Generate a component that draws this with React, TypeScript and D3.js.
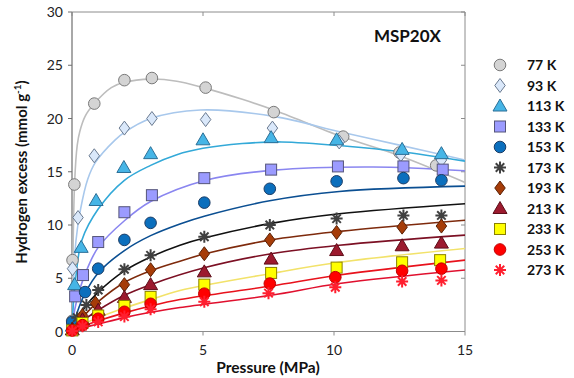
import React from "react";
import * as d3 from "d3";

// ---------- data ----------
const seriesNames = ["77 K", "93 K", "113 K", "133 K", "153 K", "173 K", "193 K", "213 K", "233 K", "253 K", "273 K"];
const xTicks = [0, 5, 10, 15];
const yTicks = [0, 5, 10, 15, 20, 25, 30];

// measured points: pressure (MPa) and excess (mmol/g)
const p77 = [0.005, 0.02, 0.09, 0.85, 2.0, 3.05, 5.1, 7.7, 10.35, 12.5, 13.9];
const v77 = [1.0, 6.7, 13.8, 21.4, 23.6, 23.8, 22.9, 20.6, 18.3, 16.8, 15.6];
const p93 = [0.005, 0.02, 0.23, 0.85, 2.0, 3.05, 5.1, 7.65, 10.2, 12.55, 14.1];
const v93 = [0.6, 5.9, 10.7, 16.5, 19.1, 20.0, 19.9, 19.1, 17.8, 16.6, 16.1];
const p113 = [0.01, 0.1, 0.35, 0.92, 1.98, 3.0, 5.0, 7.6, 10.1, 12.6, 14.1];
const v113 = [0.5, 4.4, 7.9, 12.3, 15.4, 16.7, 18.0, 18.2, 18.0, 17.1, 16.7];
const p133 = [0.01, 0.12, 0.42, 1.0, 2.0, 3.05, 5.05, 7.6, 10.15, 12.65, 14.15];
const v133 = [0.4, 3.3, 5.3, 8.4, 11.2, 12.8, 14.4, 15.2, 15.5, 15.5, 15.2];
const p153 = [0.01, 0.5, 1.0, 2.0, 3.0, 5.05, 7.55, 10.1, 12.65, 14.1];
const v153 = [0.9, 3.7, 5.9, 8.6, 10.2, 12.1, 13.4, 14.1, 14.4, 14.2];
const p173 = [0.01, 0.2, 0.55, 1.0, 2.0, 3.0, 5.05, 7.55, 10.1, 12.65, 14.1];
const v173 = [0.3, 1.3, 2.5, 3.9, 5.85, 7.15, 8.9, 10.0, 10.6, 10.9, 10.9];
const p193 = [0.01, 0.4, 0.9, 2.0, 3.0, 5.05, 7.55, 10.1, 12.6, 14.1];
const v193 = [0.2, 1.5, 2.65, 4.4, 5.8, 7.3, 8.6, 9.3, 9.8, 9.9];
const p213 = [0.01, 0.4, 1.0, 2.0, 3.0, 5.05, 7.6, 10.1, 12.6, 14.1];
const v213 = [0.15, 1.1, 2.0, 3.2, 4.4, 5.6, 6.8, 7.6, 8.05, 8.3];
const p233 = [0.01, 0.4, 1.0, 2.0, 3.0, 5.05, 7.6, 10.1, 12.6, 14.05];
const v233 = [0.1, 0.8, 1.5, 2.4, 3.25, 4.4, 5.5, 6.0, 6.5, 6.7];
const p253 = [0.01, 0.4, 1.0, 2.0, 3.0, 5.05, 7.55, 10.05, 12.6, 14.1];
const v253 = [0.1, 0.6, 1.2, 1.85, 2.6, 3.55, 4.5, 5.1, 5.7, 5.9];
const p273 = [0.01, 0.4, 1.0, 2.0, 3.0, 5.05, 7.5, 10.05, 12.6, 14.1];
const v273 = [0.05, 0.5, 0.9, 1.4, 2.1, 2.8, 3.6, 4.15, 4.7, 4.8];

// fitted curves: pressure and excess
const fp77 = [0, 0.03, 0.1, 0.2, 0.3, 0.5, 0.85, 1.5, 2, 3, 4, 5, 6.5, 7.7, 10.3, 12.5, 15];
const fv77 = [0, 6, 14, 17.5, 18.8, 20.2, 21.4, 22.9, 23.4, 23.7, 23.5, 22.9, 21.8, 20.8, 18.3, 16.5, 14.0];
const fp93 = [0, 0.05, 0.15, 0.32, 0.6, 0.9, 1.65, 2, 3, 4.9, 7.7, 10.3, 12.5, 15];
const fv93 = [0, 4, 8.5, 11.4, 14.3, 15.9, 18.0, 18.7, 20.0, 20.8, 20.2, 18.7, 17.5, 16.1];
const fp113 = [0, 0.05, 0.15, 0.38, 1.0, 2, 3, 4, 5, 6.5, 8, 10.5, 12.5, 15];
const fv113 = [0, 2.5, 5.2, 8.6, 11.5, 14.2, 15.6, 16.6, 17.2, 17.65, 17.8, 17.4, 16.9, 16.0];
const fp133 = [0, 0.1, 0.3, 0.6, 1, 2, 3, 5.1, 7.7, 11.5, 15];
const fv133 = [0, 2, 4, 6, 7.9, 10.4, 12.2, 14.2, 15.15, 15.45, 15.1];
const fp153 = [0, 0.2, 0.5, 1, 2, 3, 4.12, 5.08, 7.6, 10.2, 15];
const fv153 = [0, 1.8, 3.6, 5.5, 7.6, 9.0, 10.1, 10.85, 12.3, 13.15, 13.65];
const fp173 = [0, 0.2, 0.5, 1, 2, 3, 4.12, 5.08, 7.6, 10.2, 15];
const fv173 = [0, 1.1, 2.3, 3.7, 5.7, 7.0, 8.1, 8.8, 10.15, 11.05, 12.0];
const fp193 = [0, 0.2, 0.5, 1, 2, 3, 4.12, 5.08, 7.6, 10.2, 15];
const fv193 = [0, 0.8, 1.6, 2.8, 4.6, 5.7, 6.6, 7.3, 8.6, 9.4, 10.45];
const fp213 = [0, 0.3, 1, 2, 3, 5.08, 7.6, 10.2, 15];
const fv213 = [0, 0.8, 2.0, 3.4, 4.4, 6.0, 7.3, 8.1, 9.05];
const fp233 = [0, 0.3, 1, 2, 3, 4.12, 7.6, 10.2, 15];
const fv233 = [0, 0.55, 1.3, 2.2, 3.0, 3.85, 5.45, 6.5, 7.8];
const fp253 = [0, 0.3, 1, 2, 3, 4.12, 7.6, 10.2, 15];
const fv253 = [0, 0.4, 1.0, 1.75, 2.4, 3.0, 4.27, 5.3, 6.7];
const fp273 = [0, 0.3, 1, 2, 3, 4.12, 7.6, 10.2, 15];
const fv273 = [0, 0.28, 0.7, 1.3, 1.8, 2.25, 3.4, 4.5, 5.77];

const pointP = [p77, p93, p113, p133, p153, p173, p193, p213, p233, p253, p273];
const pointV = [v77, v93, v113, v133, v153, v173, v193, v213, v233, v253, v273];
const fitP = [fp77, fp93, fp113, fp133, fp153, fp173, fp193, fp213, fp233, fp253, fp273];
const fitV = [fv77, fv93, fv113, fv133, fv153, fv173, fv193, fv213, fv233, fv253, fv273];

// ---------- styles ----------
type Shape = "circle" | "diamond" | "triangle" | "square" | "star";
const shapes: Shape[] = ["circle", "diamond", "triangle", "square", "circle", "star", "diamond", "triangle", "square", "circle", "star"];
const fills = ["#d4d4d4", "#dae8fa", "#46b5e6", "#9b9bff", "#0b6fbd", "#404040", "#a63c08", "#9c1a2e", "#ffff00", "#ff0000", "#ff1f2f"];
const strokes = ["#7a7a7a", "#6a7a90", "#2b6f97", "#55557a", "#1c3d66", "#404040", "#5a2106", "#5c0d18", "#8a8000", "#c00000", "#ff1f2f"];
const lineColors = ["#bdbdbd", "#a8c8ec", "#33a9d8", "#8a86f0", "#0b4f92", "#111111", "#7e2a0c", "#7c1024", "#f2e26a", "#e8121c", "#e0102e"];

const W = 574, H = 378;
const x = d3.scaleLinear().domain([0, 15]).range([72, 465]);
const y = d3.scaleLinear().domain([0, 30]).range([331.5, 12]);

function Marker({ shape, cx, cy, fill, stroke }: { shape: Shape; cx: number; cy: number; fill: string; stroke: string }) {
  const sw = 1;
  if (shape === "circle") return <circle cx={cx} cy={cy} r={5.8} fill={fill} stroke={stroke} strokeWidth={sw} />;
  if (shape === "square") return <rect x={cx - 5.5} y={cy - 5.5} width={11} height={11} fill={fill} stroke={stroke} strokeWidth={sw} />;
  if (shape === "diamond") {
    const r = 7;
    return <path d={`M${cx},${cy - r}L${cx + r * 0.75},${cy}L${cx},${cy + r}L${cx - r * 0.75},${cy}Z`} fill={fill} stroke={stroke} strokeWidth={sw} />;
  }
  if (shape === "triangle") {
    return <path d={`M${cx},${cy - 7}L${cx + 7},${cy + 5}L${cx - 7},${cy + 5}Z`} fill={fill} stroke={stroke} strokeWidth={sw} />;
  }
  const r = 6;
  const arms = [0, 45, 90, 135].map((a) => {
    const t = (a * Math.PI) / 180;
    return `M${cx - r * Math.cos(t)},${cy - r * Math.sin(t)}L${cx + r * Math.cos(t)},${cy + r * Math.sin(t)}`;
  });
  return <path d={arms.join("")} stroke={fill} strokeWidth={2} fill="none" />;
}

export default function App() {
  const line = d3
    .line<[number, number]>()
    .x((d) => x(d[0]))
    .y((d) => y(d[1]))
    .curve(d3.curveCatmullRom.alpha(0.5));
  const axisColor = "#8c8c8c";
  const font = "Lato, 'Open Sans', sans-serif";
  const legendY = d3.scaleLinear().domain([0, 10]).range([65, 270]);

  return (
    <svg width={W} height={H} style={{ position: "absolute", left: 0, top: 0, background: "#fff" }} fontFamily={font}>
      <defs>
        <clipPath id="plot">
          <rect x={72} y={12} width={393} height={319.5} />
        </clipPath>
      </defs>
      {/* frame */}
      <line x1={72} x2={465} y1={12} y2={12} stroke={axisColor} strokeWidth={1} />
      <line x1={465} x2={465} y1={12} y2={331.5} stroke={axisColor} strokeWidth={1} />
      <line x1={72} x2={465} y1={331.5} y2={331.5} stroke={axisColor} strokeWidth={1.2} />
      <line x1={72} x2={72} y1={12} y2={331.5} stroke="#6e6e6e" strokeWidth={1.2} />
      {yTicks.map((t) => (
        <g key={"y" + t}>
          <line x1={68} x2={72} y1={y(t)} y2={y(t)} stroke="#6e6e6e" />
          <line x1={461} x2={465} y1={y(t)} y2={y(t)} stroke={axisColor} />
          <text x={63} y={y(t) + 5} textAnchor="end" fontSize={14} fill="#222">
            {t}
          </text>
        </g>
      ))}
      {xTicks.map((t) => (
        <g key={"x" + t}>
          <line x1={x(t)} x2={x(t)} y1={331.5} y2={335.5} stroke={axisColor} />
          <line x1={x(t)} x2={x(t)} y1={12} y2={16} stroke={axisColor} />
          <text x={x(t)} y={355} textAnchor="middle" fontSize={14} fill="#222">
            {t}
          </text>
        </g>
      ))}
      {/* fits */}
      <g clipPath="url(#plot)">
        {fitP.map((ps, i) => (
          <path
            key={"f" + i}
            d={line(ps.map((p, j) => [p, fitV[i][j]] as [number, number])) || ""}
            fill="none"
            stroke={lineColors[i]}
            strokeWidth={1.6}
          />
        ))}
      </g>
      {/* points */}
      {pointP.map((ps, i) => (
        <g key={"p" + i}>
          {ps.map((p, j) => (
            <Marker key={j} shape={shapes[i]} cx={x(p)} cy={y(pointV[i][j])} fill={fills[i]} stroke={strokes[i]} />
          ))}
        </g>
      ))}
      {/* title */}
      <text x={441} y={42} textAnchor="end" fontSize={17} fontWeight="bold" fill="#111">
        MSP20X
      </text>
      {/* legend */}
      {seriesNames.map((n, i) => (
        <g key={"l" + i}>
          <Marker shape={shapes[i]} cx={500} cy={legendY(i)} fill={fills[i]} stroke={strokes[i]} />
          <text x={527} y={legendY(i) + 5} fontSize={14} fontWeight="bold" fill="#111">
            {n}
          </text>
        </g>
      ))}
      {/* axis labels */}
      <text x={268} y={373} textAnchor="middle" fontSize={15.5} fontWeight="bold" fill="#111">
        Pressure (MPa)
      </text>
      <text transform={`translate(27,172) rotate(-90)`} textAnchor="middle" fontSize={15} fontWeight="bold" fill="#111">
        Hydrogen excess (mmol g
        <tspan dy={-6} fontSize={10}>
          -1
        </tspan>
        <tspan dy={6}>)</tspan>
      </text>
    </svg>
  );
}
